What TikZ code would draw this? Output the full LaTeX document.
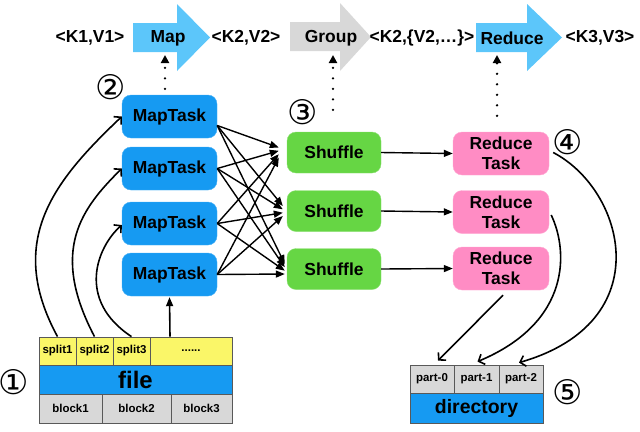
\documentclass[tikz,border=0pt]{standalone}
\usepackage{fontspec}
\setmainfont{Liberation Sans}
\newfontfamily\circfont{DejaVu Sans}
\usetikzlibrary{arrows.meta,calc}
\definecolor{taskblue}{RGB}{22,154,242}
\definecolor{lightblue}{RGB}{92,198,250}
\definecolor{shgreen}{RGB}{102,214,68}
\definecolor{rpink}{RGB}{255,140,196}
\definecolor{syellow}{RGB}{250,246,104}
\definecolor{cellgray}{RGB}{216,216,216}
\definecolor{arrowgray}{RGB}{216,216,216}
\tikzset{
  px/.style={x=1bp,y=-1bp},
  task/.style={rounded corners=9bp, minimum height=43bp, inner sep=0pt,
    font=\bfseries\fontsize{17.5}{20}\selectfont, align=center},
  maptask/.style={task, fill=taskblue, draw=taskblue!80!white, minimum width=95bp},
  shufbox/.style={task, fill=shgreen, draw=shgreen!75!white, minimum width=94bp, minimum height=41bp},
  redbox/.style={task, fill=rpink, draw=rpink!75!white, minimum width=96bp},
  cell/.style={draw=black!65, line width=0.8bp, inner sep=0pt, minimum height=28bp,
    font=\bfseries\fontsize{11.5}{12}\selectfont},
  splitcell/.style={cell, fill=syellow},
  graycell/.style={cell, fill=cellgray},
  bigrow/.style={draw=black!65, line width=0.8bp, fill=taskblue, inner sep=0pt, minimum height=29bp},
  kv/.style={font=\bfseries\fontsize{17.5}{19}\selectfont, inner sep=0pt},
  circnum/.style={font=\circfont\fontsize{34}{34}\selectfont, inner sep=0pt},
  dotarrow/.style={line width=2.6bp, line cap=round, dash pattern=on 0pt off 10.5bp,
    -{Triangle[length=8bp,width=8bp]}},
  fatarrow/.style={line width=1.4bp, -{Triangle[length=9bp,width=7bp]}},
  barbarrow/.style={line width=1.6bp, -{Straight Barb[length=5bp,width=11bp]}},
}
\begin{document}
\begin{tikzpicture}[px]
\useasboundingbox (0,0) rectangle (640,431);
% top arrows
\fill[lightblue] (133,23) -- (177,23) -- (177,4) -- (210,37.5) -- (177,71) -- (177,52) -- (133,52) -- cycle;
\fill[arrowgray] (290,22) -- (340,22) -- (340,3) -- (371,37) -- (340,71) -- (340,51) -- (290,51) -- cycle;
\fill[lightblue] (476,23) -- (527,23) -- (527,4) -- (562,37.5) -- (527,71) -- (527,52) -- (476,52) -- cycle;
\node[kv] (kv1) at (90,38) {<K1,V1>};
\node[kv] (mapT) at (168,38) {Map};
\node[kv] (kv2) at (246,38) {<K2,V2>};
\node[kv] (groupT) at (331,38) {Group};
\node[kv] (kv3) at (422,38) {<K2,\{V2,…\}>};
\node[kv] (reduceT) at (512,38) {Reduce};
\node[kv] (kv4) at (600,38) {<K3,V3>};
\coordinate (mapbot) at (165,55);
\coordinate (groupbot) at (333,55);
\coordinate (reducebot) at (497,55);
% map tasks
\node[maptask] (m1) at (169.5,116.5) {MapTask};
\node[maptask] (m2) at (169.5,168.5) {MapTask};
\node[maptask] (m3) at (169.5,223.5) {MapTask};
\node[maptask] (m4) at (169.5,274.5) {MapTask};
% shuffles
\node[shufbox] (s1) at (334,152.5) {Shuffle};
\node[shufbox] (s2) at (334,211) {Shuffle};
\node[shufbox] (s3) at (334,269) {Shuffle};
% reduce tasks
\node[redbox] (r1) at (501,153.5) {Reduce\\Task};
\node[redbox] (r2) at (501,212) {Reduce\\Task};
\node[redbox] (r3) at (501,268.5) {Reduce\\Task};
% file block
\node[splitcell, minimum width=37bp] (sp1) at (57.5,351) {split1};
\node[splitcell, minimum width=37bp] (sp2) at (94.5,351) {split2};
\node[splitcell, minimum width=37bp] (sp3) at (131.5,351) {split3};
\node[splitcell, minimum width=82bp] (sp4) at (191,351) {......};
\node[bigrow, minimum width=193bp, font=\bfseries\fontsize{24}{26}\selectfont] (file) at (135.5,379.5) {file};
\node[graycell, minimum width=63bp, minimum height=29bp] (b1) at (70.5,408.5) {block1};
\node[graycell, minimum width=69bp, minimum height=29bp] (b2) at (136.5,408.5) {block2};
\node[graycell, minimum width=61bp, minimum height=29bp] (b3) at (201.5,408.5) {block3};
% directory
\node[graycell, minimum width=44bp] (p0) at (432,379) {part-0};
\node[graycell, minimum width=45bp] (p1) at (476.5,379) {part-1};
\node[graycell, minimum width=44bp] (p2) at (521,379) {part-2};
\node[bigrow, minimum width=133bp, minimum height=30bp, font=\bfseries\fontsize{19.5}{21}\selectfont] (dir) at (476.5,408) {directory};
% circled numbers
\node[circnum] (c1) at (14,382) {①};
\node[circnum] (c2) at (111,87) {②};
\node[circnum] (c3) at (303,112) {③};
\node[circnum] (c4) at (568,142) {④};
\node[circnum] (c5) at (568,392) {⑤};
% dotted arrows
\draw[dotarrow] ([xshift=-4.5bp,yshift=6bp]m1.north) -- (mapbot);
\draw[dotarrow] ([xshift=-1bp,yshift=22bp]s1.north) -- (groupbot);
\draw[dotarrow] ([xshift=-4bp,yshift=16bp]r1.north) -- (reducebot);
% map -> shuffle crossings
\foreach \m/\d/\ys in {m1/-5/-9, m2/-1.7/0, m3/1.7/0, m4/5/0}{
  \foreach \s/\xs in {s1/-8, s2/-4, s3/-2}{
    \draw[fatarrow] ([yshift=\ys bp]\m.east) -- ([xshift=\xs bp, yshift=-\d bp]\s.west);
  }
}
% shuffle -> reduce
\draw[fatarrow] (s1.east) -- (r1.west);
\draw[fatarrow] (s2.east) -- (r2.west);
\draw[fatarrow] (s3.east) -- (r3.west);
% splits -> map tasks
\draw[barbarrow] (sp1.north) .. controls (5,240) and (55,180) .. (m1.west);
\draw[barbarrow] (sp2.north) .. controls (49,250) and (82,208) .. (m2.west);
\draw[barbarrow] (sp3.north) .. controls (76,300) and (97,247) .. ([yshift=-1.5bp]m3.west);
\draw[fatarrow, line width=1.6bp] ([xshift=-21bp]sp4.north) -- ([yshift=-1bp]m4.south);
% reduce -> parts
\draw[barbarrow] ([xshift=2bp,yshift=-5bp]r3.south) -- ([xshift=6bp,yshift=4bp]p0.north);
\draw[barbarrow] ([xshift=2bp,yshift=-3bp]r2.east) .. controls (568,250) and (572,322) .. ([xshift=1bp,yshift=3bp]p1.north);
\draw[barbarrow] ([xshift=4bp,yshift=1bp]r1.east) .. controls (625,190) and (660,322) .. ([xshift=-2bp,yshift=2bp]p2.north);
\end{tikzpicture}
\end{document}
